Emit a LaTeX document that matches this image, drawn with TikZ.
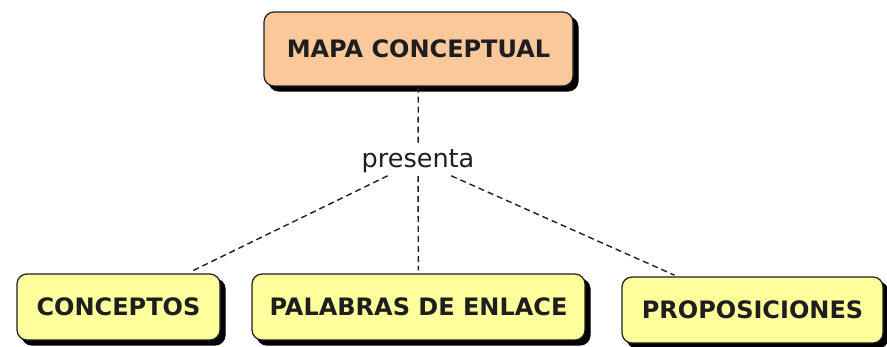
\documentclass[tikz,border=0pt]{standalone}
\usepackage{fontspec}
\setmainfont{DejaVu Sans}
\usepackage{xcolor}
\usetikzlibrary{positioning,shapes,shadows,arrows}
\definecolor{peach}{RGB}{251,200,155}
\definecolor{paleyellow}{RGB}{255,255,155}
\definecolor{inkgray}{RGB}{30,30,30}
\tikzstyle{concept}=[rectangle, draw=inkgray, line width=1.2pt, rounded corners=10pt,
        copy shadow={shadow xshift=5pt, shadow yshift=-5pt, fill=black, draw=black},
        text centered, text=inkgray, font=\fontsize{24}{28}\selectfont\bfseries,
        minimum height=66pt, inner xsep=0pt]
\tikzstyle{root}=[concept, fill=peach, minimum height=74pt]
\tikzstyle{leaf}=[concept, fill=paleyellow]
\tikzstyle{link}=[draw=inkgray, line width=1.4pt, dash pattern=on 6pt off 4pt, shorten >=3pt]

\begin{document}
\begin{tikzpicture}[x=1pt, y=-1pt]
        \useasboundingbox (0,0) rectangle (887,347);
        \node (mapa) [root, minimum width=309pt] at (418.5,49) {MAPA CONCEPTUAL};
        \node (presenta) [font=\fontsize{25.5}{30}\selectfont, text=inkgray, inner sep=3pt] at (418,161) {presenta};
        \node (conceptos) [leaf, minimum width=203pt] at (118.5,307) {CONCEPTOS};
        \node (palabras) [leaf, minimum width=333pt] at (418.5,307) {PALABRAS DE ENLACE};
        \node (proposiciones) [leaf, minimum width=261pt] at (752.5,310) {PROPOSICIONES};

        \draw [link] (mapa) -- (presenta);
        \draw [link] (presenta) -- (conceptos);
        \draw [link] (presenta) -- (palabras);
        \draw [link] (presenta) -- (proposiciones);
      \end{tikzpicture}
\end{document}
